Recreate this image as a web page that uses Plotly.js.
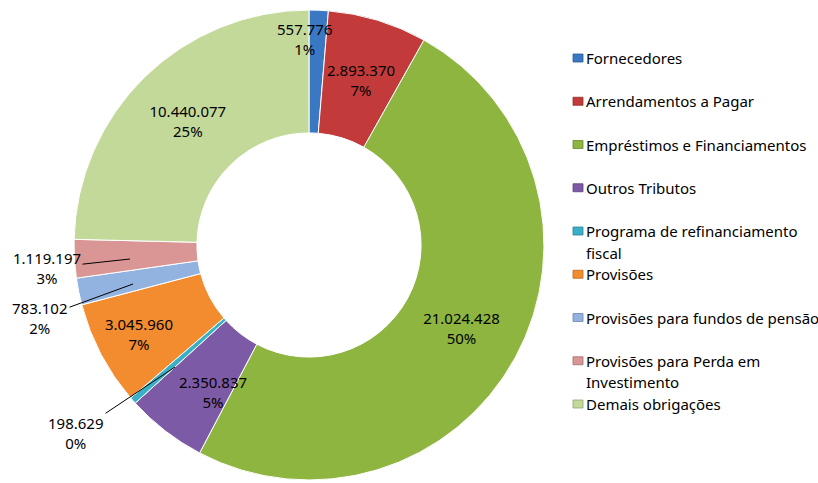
<!DOCTYPE html>
<html>
<head>
<meta charset="utf-8">
<script src="https://cdn.plot.ly/plotly-3.0.1.min.js"></script>
<style>html,body{margin:0;padding:0;background:#fff;}#chart{width:818px;height:483px;}</style>
</head>
<body>
<div id="chart"></div>
<script>
// ---- data ----
const categories = [
  "Fornecedores",
  "Arrendamentos a Pagar",
  "Empréstimos e Financiamentos",
  "Outros Tributos",
  "Programa de refinanciamento fiscal",
  "Provisões",
  "Provisões para fundos de pensão",
  "Provisões para Perda em Investimento",
  "Demais obrigações"
];
const values = [557776, 2893370, 21024428, 2350837, 198629, 3045960, 783102, 1119197, 10440077];
const legendLabels = [
  "Fornecedores",
  "Arrendamentos a Pagar",
  "Empréstimos e Financiamentos",
  "Outros Tributos",
  "Programa de refinanciamento<br>fiscal",
  "Provisões",
  "Provisões para fundos de pensão",
  "Provisões para Perda em<br>Investimento",
  "Demais obrigações"
];
const colors = ["#3A78C4", "#C23B3A", "#8DB53F", "#7D5AA6", "#3BAFC8", "#F28C2E", "#92B2E0", "#D99694", "#C3D99A"];
const lineColors = ["#2B5A96", "#8E2B2A", "#6A882F", "#5D437C", "#2C8396", "#B86A22", "#6D86A8", "#A3706F", "#93A374"];

// slices labelled manually (label centre in px, leader-line tip in px)
const manualLabels = {
  0: {tx: 305, ty: 39, tip: null},
  1: {tx: 361, ty: 80, tip: null},
  3: {tx: 213, ty: 392, tip: null},
  4: {tx: 76, ty: 433, tip: [175, 367]},
  6: {tx: 40, ty: 318, tip: [133, 284]},
  7: {tx: 47, ty: 268, tip: [130, 259]}
};

const W = 818, H = 483;
const total = values.reduce((a, b) => a + b, 0);
const fmtInt = v => String(v).replace(/\B(?=(\d{3})+(?!\d))/g, ".");

// whole-number percentages that add up to 100 (largest remainder, like the spreadsheet)
const raw = values.map(v => v / total * 100);
const pct = raw.map(Math.floor);
let missing = 100 - pct.reduce((a, b) => a + b, 0);
raw.map((r, i) => [r - Math.floor(r), i]).sort((a, b) => b[0] - a[0])
  .slice(0, missing).forEach(([, i]) => pct[i] += 1);

const labelText = values.map((v, i) => fmtInt(v) + "<br>" + pct[i] + "%");
const textpos = values.map((v, i) => (i in manualLabels) ? "none" : "inside");

const trace = {
  type: "pie",
  labels: categories,
  values: values,
  text: labelText,
  sort: false,
  direction: "clockwise",
  rotation: 0,
  hole: 0.477,
  marker: {colors: colors, line: {color: "#ffffff", width: 1}},
  textposition: textpos,
  insidetextorientation: "horizontal",
  texttemplate: "%{text}",
  textfont: {family: "Noto Sans, sans-serif", size: 15, color: "#000"},
  showlegend: false,
  hoverinfo: "label+value",
  domain: {x: [0.0905, 0.665], y: [0.0062, 0.9793]}
};

const annotations = [];
const shapes = [];
const fontL = {family: "Noto Sans, sans-serif", size: 15, color: "#000"};

// manual data labels
Object.keys(manualLabels).forEach(k => {
  const i = +k, o = manualLabels[k];
  if (o.tip) {
    annotations.push({
      xref: "paper", yref: "paper",
      x: o.tip[0] / W, y: 1 - o.tip[1] / H,
      ax: o.tx - o.tip[0], ay: o.ty - o.tip[1],
      text: labelText[i], showarrow: true, arrowhead: 0, arrowwidth: 1, arrowcolor: "#000",
      standoff: 0, startstandoff: 0, font: fontL, align: "center"
    });
  } else {
    annotations.push({
      xref: "paper", yref: "paper", x: o.tx / W, y: 1 - o.ty / H,
      xanchor: "center", yanchor: "middle",
      text: labelText[i], showarrow: false, font: fontL, align: "center"
    });
  }
});

// custom legend
const legX = 573, legY0 = 58, legStep = 43.25, lineStep = 21.5;
legendLabels.forEach((lab, i) => {
  const y = legY0 + legStep * i;
  shapes.push({
    type: "rect", xref: "paper", yref: "paper",
    x0: legX / W, x1: (legX + 10) / W, y0: 1 - (y - 4) / H, y1: 1 - (y + 4) / H,
    fillcolor: colors[i], line: {color: lineColors[i], width: 0.8}
  });
  lab.split("<br>").forEach((line, k) => {
    annotations.push({
      xref: "paper", yref: "paper", x: (legX + 11) / W, y: 1 - (y + lineStep * k) / H,
      xanchor: "left", yanchor: "middle", text: line, showarrow: false, font: fontL
    });
  });
});

const layout = {
  width: W, height: H,
  margin: {l: 0, r: 0, t: 0, b: 0},
  paper_bgcolor: "#fff",
  separators: ",.",
  showlegend: false,
  uniformtext: {minsize: 15, mode: "show"},
  annotations: annotations,
  shapes: shapes
};

Plotly.newPlot("chart", [trace], layout, {displayModeBar: false, staticPlot: true});
</script>
</body>
</html>
